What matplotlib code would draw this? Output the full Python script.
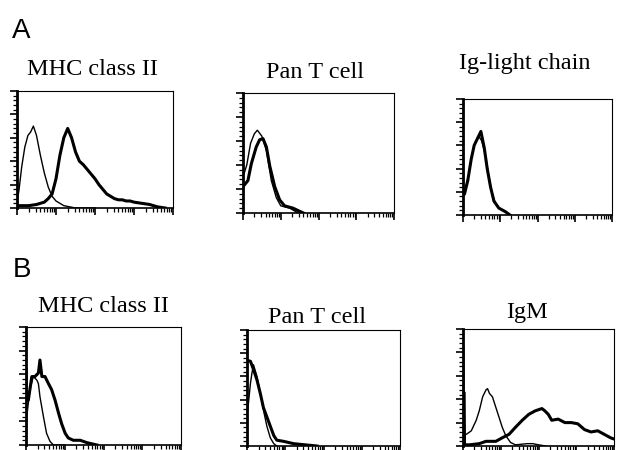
import numpy as np
import matplotlib
matplotlib.use('Agg')
import matplotlib.pyplot as plt
from matplotlib.ticker import LogLocator, MultipleLocator, NullFormatter

# ===== data (x: log10 fluorescence, decades 0-4 / y: fraction of axis height) =====
titles = ['MHC class II', 'Pan T cell', 'Ig-light chain',
          'MHC class II', 'Pan T cell', 'IgM']

# A - MHC class II
a1_thin_x = [0.0, 0.05, 0.12, 0.2, 0.28, 0.35, 0.42, 0.5, 0.6, 0.7, 0.8, 0.9, 1.0, 1.1, 1.2, 1.35, 1.5, 2.0]
a1_thin_y = [0.05, 0.15, 0.35, 0.52, 0.62, 0.65, 0.70, 0.62, 0.45, 0.30, 0.18, 0.10, 0.06, 0.04, 0.02, 0.01, 0.0, 0.0]
a1_thick_x = [0.0, 0.3, 0.5, 0.7, 0.8, 0.9, 1.0, 1.1, 1.2, 1.3, 1.4, 1.5, 1.6, 1.7, 1.8, 1.9, 2.0,
              2.1, 2.2, 2.3, 2.4, 2.5, 2.6, 2.7, 2.8, 2.9, 3.0, 3.2, 3.4, 3.6, 3.8]
a1_thick_y = [0.02, 0.02, 0.03, 0.05, 0.08, 0.12, 0.25, 0.45, 0.60, 0.68, 0.60, 0.48, 0.40, 0.37, 0.33, 0.29, 0.25,
              0.20, 0.16, 0.12, 0.10, 0.08, 0.07, 0.07, 0.06, 0.06, 0.05, 0.04, 0.03, 0.01, 0.0]

# A - Pan T cell
a2_thin_x = [0.0, 0.1, 0.2, 0.3, 0.38, 0.5, 0.62, 0.75, 0.88, 1.0, 1.24, 1.46]
a2_thin_y = [0.30, 0.40, 0.58, 0.66, 0.69, 0.64, 0.52, 0.27, 0.13, 0.06, 0.04, 0.0]
a2_thick_x = [0.0, 0.13, 0.22, 0.35, 0.44, 0.53, 0.62, 0.71, 0.84, 0.97, 1.1, 1.33, 1.46, 1.6]
a2_thick_y = [0.22, 0.27, 0.41, 0.55, 0.61, 0.62, 0.55, 0.39, 0.22, 0.11, 0.06, 0.04, 0.02, 0.0]

# A - Ig-light chain
a3_thin_x = [0.0, 0.02, 0.06, 0.15, 0.24, 0.33, 0.42, 0.5, 0.6, 0.68, 0.77, 0.87, 1.0, 1.15, 1.26]
a3_thin_y = [0.59, 0.20, 0.22, 0.34, 0.52, 0.63, 0.68, 0.64, 0.52, 0.36, 0.20, 0.10, 0.05, 0.03, 0.0]
a3_thick_x = [0.0, 0.04, 0.13, 0.22, 0.30, 0.39, 0.48, 0.57, 0.65, 0.74, 0.83, 0.96, 1.13, 1.26]
a3_thick_y = [0.18, 0.18, 0.30, 0.48, 0.60, 0.66, 0.72, 0.58, 0.40, 0.24, 0.12, 0.06, 0.03, 0.0]

# B - MHC class II
b1_thin_x = [0.0, 0.02, 0.10, 0.19, 0.28, 0.32, 0.36, 0.45, 0.53, 0.62, 0.71, 1.0]
b1_thin_y = [0.0, 0.24, 0.47, 0.58, 0.55, 0.52, 0.41, 0.24, 0.10, 0.03, 0.0, 0.0]
b1_thick_x = [0.0, 0.01, 0.06, 0.15, 0.23, 0.32, 0.36, 0.41, 0.49, 0.58, 0.66, 0.75, 0.84, 0.92,
              1.01, 1.09, 1.22, 1.40, 1.57, 1.83]
b1_thick_y = [0.64, 0.40, 0.38, 0.58, 0.58, 0.61, 0.72, 0.58, 0.58, 0.52, 0.47, 0.38, 0.27, 0.18,
              0.10, 0.06, 0.04, 0.04, 0.02, 0.0]

# B - Pan T cell
b2_thin_x = [0.02, 0.09, 0.13, 0.17, 0.26, 0.35, 0.43, 0.52, 0.61, 0.70, 0.78]
b2_thin_y = [0.31, 0.54, 0.63, 0.70, 0.60, 0.45, 0.31, 0.17, 0.07, 0.02, 0.0]
b2_thick_x = [0.0, 0.09, 0.17, 0.26, 0.35, 0.43, 0.52, 0.61, 0.70, 0.78, 0.96, 1.22, 1.83]
b2_thick_y = [0.74, 0.73, 0.66, 0.57, 0.45, 0.33, 0.25, 0.17, 0.09, 0.05, 0.04, 0.02, 0.0]

# B - IgM
b3_thin_x = [0.02, 0.03, 0.09, 0.22, 0.35, 0.43, 0.52, 0.61, 0.65, 0.70, 0.78, 0.87, 0.96, 1.04,
             1.13, 1.26, 1.39, 1.7, 1.85, 2.0, 2.2]
b3_thin_y = [0.85, 0.10, 0.10, 0.13, 0.22, 0.30, 0.42, 0.48, 0.49, 0.45, 0.42, 0.33, 0.24, 0.16,
             0.09, 0.03, 0.01, 0.02, 0.02, 0.01, 0.0]
b3_thick_x = [0.03, 0.04, 0.09, 0.17, 0.43, 0.61, 0.87, 1.04, 1.22, 1.39, 1.57, 1.74, 1.91, 2.09,
              2.17, 2.26, 2.35, 2.52, 2.70, 2.87, 3.04, 3.22, 3.39, 3.57, 3.74, 3.91, 4.0]
b3_thick_y = [0.45, 0.01, 0.01, 0.01, 0.02, 0.04, 0.04, 0.07, 0.10, 0.16, 0.22, 0.27, 0.30, 0.32,
              0.30, 0.27, 0.22, 0.23, 0.20, 0.20, 0.19, 0.14, 0.12, 0.13, 0.10, 0.07, 0.06]

curves = [
    (a1_thin_x, a1_thin_y, a1_thick_x, a1_thick_y),
    (a2_thin_x, a2_thin_y, a2_thick_x, a2_thick_y),
    (a3_thin_x, a3_thin_y, a3_thick_x, a3_thick_y),
    (b1_thin_x, b1_thin_y, b1_thick_x, b1_thick_y),
    (b2_thin_x, b2_thin_y, b2_thick_x, b2_thick_y),
    (b3_thin_x, b3_thin_y, b3_thick_x, b3_thick_y),
]

# ===== layout (pixels in 617x450 image) =====
W, H = 617, 450
boxes = [(17, 91, 173, 208), (243, 93, 394, 213), (463, 99, 612, 215),
         (26, 327, 181, 445), (247, 330, 400, 446), (463, 329, 614, 446)]
title_pos = [(92, 75), (315, 78), (525, 69), (103, 312), (317, 323), (527, 318)]

fig = plt.figure(figsize=(W / 100, H / 100), dpi=100)
serif = ['Liberation Serif', 'DejaVu Serif']

for i, (l, t, r, b) in enumerate(boxes):
    ax = fig.add_axes([l / W, 1 - b / H, (r - l) / W, (b - t) / H])
    thin_x, thin_y, thick_x, thick_y = curves[i]
    ax.plot(10 ** np.array(thin_x), thin_y, color='black', lw=1.0)
    ax.plot(10 ** np.array(thick_x), thick_y, color='black', lw=2.2)
    ax.set_xscale('log')
    ax.set_xlim(1, 1e4)
    ax.set_ylim(0, 1)
    ax.xaxis.set_major_locator(LogLocator(base=10, numticks=10))
    ax.xaxis.set_minor_locator(LogLocator(base=10, subs=np.arange(2, 10), numticks=10))
    ax.xaxis.set_major_formatter(NullFormatter())
    ax.xaxis.set_minor_formatter(NullFormatter())
    ax.yaxis.set_major_locator(MultipleLocator(0.2))
    ax.yaxis.set_minor_locator(MultipleLocator(0.04))
    ax.set_yticklabels([])
    ax.tick_params(which='major', direction='out', length=5, width=1.2, color='black')
    ax.tick_params(which='minor', direction='out', length=3, width=0.9, color='black')
    ax.spines['left'].set_linewidth(2.0)
    ax.spines['bottom'].set_linewidth(1.2)
    ax.spines['top'].set_linewidth(0.8)
    ax.spines['right'].set_linewidth(0.8)
    tx, ty = title_pos[i]
    fig.text(tx / W, 1 - ty / H, titles[i], family=serif, fontsize=17.5,
             ha='center', va='baseline')

# 패널 라벨
fig.text(12 / W, 1 - 38 / H, 'A', family=['Liberation Sans', 'DejaVu Sans'], fontsize=20, va='baseline')
fig.text(13 / W, 1 - 277 / H, 'B', family=['Liberation Sans', 'DejaVu Sans'], fontsize=20, va='baseline')

fig.savefig('out.png', dpi=100)
